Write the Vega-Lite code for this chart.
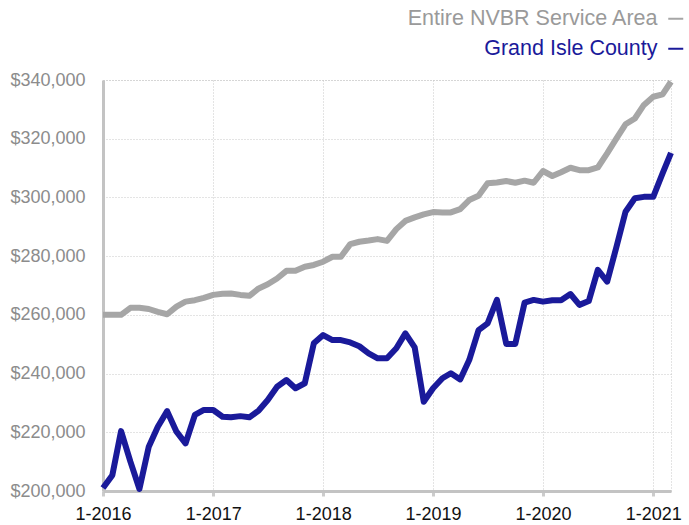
{
  "$schema": "https://vega.github.io/schema/vega-lite/v6.json",
  "width": 568,
  "height": 411,
  "autosize": "none",
  "padding": {"left": 103, "top": 80, "right": 18, "bottom": 34},
  "background": "white",
  "config": {
    "font": "Liberation Sans",
    "view": {"stroke": "#c8c8c8", "strokeDash": [1, 2], "strokeWidth": 1}
  },
  "data": {
    "values": [
      {"date": "2016/01/01", "series": "Entire NVBR Service Area", "price": 260000},
      {"date": "2016/02/01", "series": "Entire NVBR Service Area", "price": 260000},
      {"date": "2016/03/01", "series": "Entire NVBR Service Area", "price": 260000},
      {"date": "2016/04/01", "series": "Entire NVBR Service Area", "price": 262400},
      {"date": "2016/05/01", "series": "Entire NVBR Service Area", "price": 262400},
      {"date": "2016/06/01", "series": "Entire NVBR Service Area", "price": 262000},
      {"date": "2016/07/01", "series": "Entire NVBR Service Area", "price": 261000},
      {"date": "2016/08/01", "series": "Entire NVBR Service Area", "price": 260200},
      {"date": "2016/09/01", "series": "Entire NVBR Service Area", "price": 262800},
      {"date": "2016/10/01", "series": "Entire NVBR Service Area", "price": 264500},
      {"date": "2016/11/01", "series": "Entire NVBR Service Area", "price": 265000},
      {"date": "2016/12/01", "series": "Entire NVBR Service Area", "price": 265800},
      {"date": "2017/01/01", "series": "Entire NVBR Service Area", "price": 266800},
      {"date": "2017/02/01", "series": "Entire NVBR Service Area", "price": 267200},
      {"date": "2017/03/01", "series": "Entire NVBR Service Area", "price": 267300},
      {"date": "2017/04/01", "series": "Entire NVBR Service Area", "price": 266800},
      {"date": "2017/05/01", "series": "Entire NVBR Service Area", "price": 266500},
      {"date": "2017/06/01", "series": "Entire NVBR Service Area", "price": 269000},
      {"date": "2017/07/01", "series": "Entire NVBR Service Area", "price": 270400},
      {"date": "2017/08/01", "series": "Entire NVBR Service Area", "price": 272400},
      {"date": "2017/09/01", "series": "Entire NVBR Service Area", "price": 275000},
      {"date": "2017/10/01", "series": "Entire NVBR Service Area", "price": 275000},
      {"date": "2017/11/01", "series": "Entire NVBR Service Area", "price": 276400},
      {"date": "2017/12/01", "series": "Entire NVBR Service Area", "price": 277000},
      {"date": "2018/01/01", "series": "Entire NVBR Service Area", "price": 278100},
      {"date": "2018/02/01", "series": "Entire NVBR Service Area", "price": 279800},
      {"date": "2018/03/01", "series": "Entire NVBR Service Area", "price": 279800},
      {"date": "2018/04/01", "series": "Entire NVBR Service Area", "price": 284100},
      {"date": "2018/05/01", "series": "Entire NVBR Service Area", "price": 284900},
      {"date": "2018/06/01", "series": "Entire NVBR Service Area", "price": 285300},
      {"date": "2018/07/01", "series": "Entire NVBR Service Area", "price": 285800},
      {"date": "2018/08/01", "series": "Entire NVBR Service Area", "price": 285200},
      {"date": "2018/09/01", "series": "Entire NVBR Service Area", "price": 289200},
      {"date": "2018/10/01", "series": "Entire NVBR Service Area", "price": 292000},
      {"date": "2018/11/01", "series": "Entire NVBR Service Area", "price": 293200},
      {"date": "2018/12/01", "series": "Entire NVBR Service Area", "price": 294200},
      {"date": "2019/01/01", "series": "Entire NVBR Service Area", "price": 295000},
      {"date": "2019/02/01", "series": "Entire NVBR Service Area", "price": 294900},
      {"date": "2019/03/01", "series": "Entire NVBR Service Area", "price": 294900},
      {"date": "2019/04/01", "series": "Entire NVBR Service Area", "price": 296000},
      {"date": "2019/05/01", "series": "Entire NVBR Service Area", "price": 299100},
      {"date": "2019/06/01", "series": "Entire NVBR Service Area", "price": 300600},
      {"date": "2019/07/01", "series": "Entire NVBR Service Area", "price": 304800},
      {"date": "2019/08/01", "series": "Entire NVBR Service Area", "price": 305100},
      {"date": "2019/09/01", "series": "Entire NVBR Service Area", "price": 305600},
      {"date": "2019/10/01", "series": "Entire NVBR Service Area", "price": 305000},
      {"date": "2019/11/01", "series": "Entire NVBR Service Area", "price": 305700},
      {"date": "2019/12/01", "series": "Entire NVBR Service Area", "price": 305000},
      {"date": "2020/01/01", "series": "Entire NVBR Service Area", "price": 309000},
      {"date": "2020/02/01", "series": "Entire NVBR Service Area", "price": 307300},
      {"date": "2020/03/01", "series": "Entire NVBR Service Area", "price": 308600},
      {"date": "2020/04/01", "series": "Entire NVBR Service Area", "price": 310100},
      {"date": "2020/05/01", "series": "Entire NVBR Service Area", "price": 309300},
      {"date": "2020/06/01", "series": "Entire NVBR Service Area", "price": 309300},
      {"date": "2020/07/01", "series": "Entire NVBR Service Area", "price": 310200},
      {"date": "2020/08/01", "series": "Entire NVBR Service Area", "price": 315000},
      {"date": "2020/09/01", "series": "Entire NVBR Service Area", "price": 320100},
      {"date": "2020/10/01", "series": "Entire NVBR Service Area", "price": 324900},
      {"date": "2020/11/01", "series": "Entire NVBR Service Area", "price": 326900},
      {"date": "2020/12/01", "series": "Entire NVBR Service Area", "price": 331500},
      {"date": "2021/01/01", "series": "Entire NVBR Service Area", "price": 334300},
      {"date": "2021/02/01", "series": "Entire NVBR Service Area", "price": 335100},
      {"date": "2021/03/01", "series": "Entire NVBR Service Area", "price": 339400},
      {"date": "2016/01/01", "series": "Grand Isle County", "price": 201000},
      {"date": "2016/02/01", "series": "Grand Isle County", "price": 205400},
      {"date": "2016/03/01", "series": "Grand Isle County", "price": 220400},
      {"date": "2016/04/01", "series": "Grand Isle County", "price": 210000},
      {"date": "2016/05/01", "series": "Grand Isle County", "price": 200700},
      {"date": "2016/06/01", "series": "Grand Isle County", "price": 215100},
      {"date": "2016/07/01", "series": "Grand Isle County", "price": 221900},
      {"date": "2016/08/01", "series": "Grand Isle County", "price": 227200},
      {"date": "2016/09/01", "series": "Grand Isle County", "price": 220200},
      {"date": "2016/10/01", "series": "Grand Isle County", "price": 216200},
      {"date": "2016/11/01", "series": "Grand Isle County", "price": 225900},
      {"date": "2016/12/01", "series": "Grand Isle County", "price": 227600},
      {"date": "2017/01/01", "series": "Grand Isle County", "price": 227600},
      {"date": "2017/02/01", "series": "Grand Isle County", "price": 225300},
      {"date": "2017/03/01", "series": "Grand Isle County", "price": 225100},
      {"date": "2017/04/01", "series": "Grand Isle County", "price": 225500},
      {"date": "2017/05/01", "series": "Grand Isle County", "price": 225100},
      {"date": "2017/06/01", "series": "Grand Isle County", "price": 227400},
      {"date": "2017/07/01", "series": "Grand Isle County", "price": 231000},
      {"date": "2017/08/01", "series": "Grand Isle County", "price": 235500},
      {"date": "2017/09/01", "series": "Grand Isle County", "price": 237800},
      {"date": "2017/10/01", "series": "Grand Isle County", "price": 235000},
      {"date": "2017/11/01", "series": "Grand Isle County", "price": 236700},
      {"date": "2017/12/01", "series": "Grand Isle County", "price": 250300},
      {"date": "2018/01/01", "series": "Grand Isle County", "price": 253100},
      {"date": "2018/02/01", "series": "Grand Isle County", "price": 251400},
      {"date": "2018/03/01", "series": "Grand Isle County", "price": 251400},
      {"date": "2018/04/01", "series": "Grand Isle County", "price": 250600},
      {"date": "2018/05/01", "series": "Grand Isle County", "price": 249300},
      {"date": "2018/06/01", "series": "Grand Isle County", "price": 246900},
      {"date": "2018/07/01", "series": "Grand Isle County", "price": 245200},
      {"date": "2018/08/01", "series": "Grand Isle County", "price": 245200},
      {"date": "2018/09/01", "series": "Grand Isle County", "price": 248600},
      {"date": "2018/10/01", "series": "Grand Isle County", "price": 253700},
      {"date": "2018/11/01", "series": "Grand Isle County", "price": 248900},
      {"date": "2018/12/01", "series": "Grand Isle County", "price": 230400},
      {"date": "2019/01/01", "series": "Grand Isle County", "price": 235000},
      {"date": "2019/02/01", "series": "Grand Isle County", "price": 238400},
      {"date": "2019/03/01", "series": "Grand Isle County", "price": 240100},
      {"date": "2019/04/01", "series": "Grand Isle County", "price": 238000},
      {"date": "2019/05/01", "series": "Grand Isle County", "price": 244600},
      {"date": "2019/06/01", "series": "Grand Isle County", "price": 254800},
      {"date": "2019/07/01", "series": "Grand Isle County", "price": 257100},
      {"date": "2019/08/01", "series": "Grand Isle County", "price": 265100},
      {"date": "2019/09/01", "series": "Grand Isle County", "price": 250100},
      {"date": "2019/10/01", "series": "Grand Isle County", "price": 250100},
      {"date": "2019/11/01", "series": "Grand Isle County", "price": 264200},
      {"date": "2019/12/01", "series": "Grand Isle County", "price": 265100},
      {"date": "2020/01/01", "series": "Grand Isle County", "price": 264500},
      {"date": "2020/02/01", "series": "Grand Isle County", "price": 265000},
      {"date": "2020/03/01", "series": "Grand Isle County", "price": 265000},
      {"date": "2020/04/01", "series": "Grand Isle County", "price": 267100},
      {"date": "2020/05/01", "series": "Grand Isle County", "price": 263400},
      {"date": "2020/06/01", "series": "Grand Isle County", "price": 264700},
      {"date": "2020/07/01", "series": "Grand Isle County", "price": 275300},
      {"date": "2020/08/01", "series": "Grand Isle County", "price": 271300},
      {"date": "2020/09/01", "series": "Grand Isle County", "price": 283200},
      {"date": "2020/10/01", "series": "Grand Isle County", "price": 295100},
      {"date": "2020/11/01", "series": "Grand Isle County", "price": 299700},
      {"date": "2020/12/01", "series": "Grand Isle County", "price": 300200},
      {"date": "2021/01/01", "series": "Grand Isle County", "price": 300200},
      {"date": "2021/02/01", "series": "Grand Isle County", "price": 308200},
      {"date": "2021/03/01", "series": "Grand Isle County", "price": 315200}
    ]
  },
  "mark": {"type": "line", "strokeWidth": 6, "strokeJoin": "round", "clip": false},
  "encoding": {
    "x": {
      "field": "date",
      "type": "temporal",
      "scale": {"domain": ["2016/01/01", "2021/03/01"]},
      "axis": {
        "title": null,
        "format": "%-m-%Y",
        "tickCount": {"interval": "year", "step": 1},
        "labelFontSize": 18,
        "labelColor": "#111111",
        "labelPadding": 9,
        "labelFlush": false,
        "labelOverlap": false,
        "domainColor": "#c3c3c3",
        "domainWidth": 3,
        "tickColor": "#cccccc",
        "tickWidth": 3,
        "tickSize": 5,
        "gridColor": "#c8c8c8",
        "gridDash": [1, 2],
        "gridWidth": 1
      }
    },
    "y": {
      "field": "price",
      "type": "quantitative",
      "scale": {"domain": [200000, 340000], "nice": false, "zero": false},
      "axis": {
        "title": null,
        "values": [200000, 220000, 240000, 260000, 280000, 300000, 320000, 340000],
        "format": "$,.0f",
        "labelFontSize": 18,
        "labelColor": "#8c8c8c",
        "labelPadding": 18,
        "ticks": false,
        "domainColor": "#c3c3c3",
        "domainWidth": 3,
        "gridColor": "#c8c8c8",
        "gridDash": [1, 2],
        "gridWidth": 1
      }
    },
    "color": {
      "field": "series",
      "type": "nominal",
      "scale": {
        "domain": ["Entire NVBR Service Area", "Grand Isle County"],
        "range": ["#a6a6a6", "#1a1a9a"]
      },
      "legend": {
        "title": null,
        "orient": "none",
        "direction": "vertical",
        "legendX": 562,
        "legendY": -72,
        "padding": 0,
        "symbolType": "stroke",
        "symbolSize": 225,
        "symbolStrokeWidth": 2,
        "labelAlign": "right",
        "labelOffset": -29,
        "labelFontSize": 21.5,
        "labelLimit": 500,
        "rowPadding": 7,
        "encode": {
          "labels": {
            "update": {
              "fill": {"signal": "datum.value === 'Grand Isle County' ? '#1a1a9a' : '#9a9a9a'"}
            }
          }
        }
      }
    }
  }
}
